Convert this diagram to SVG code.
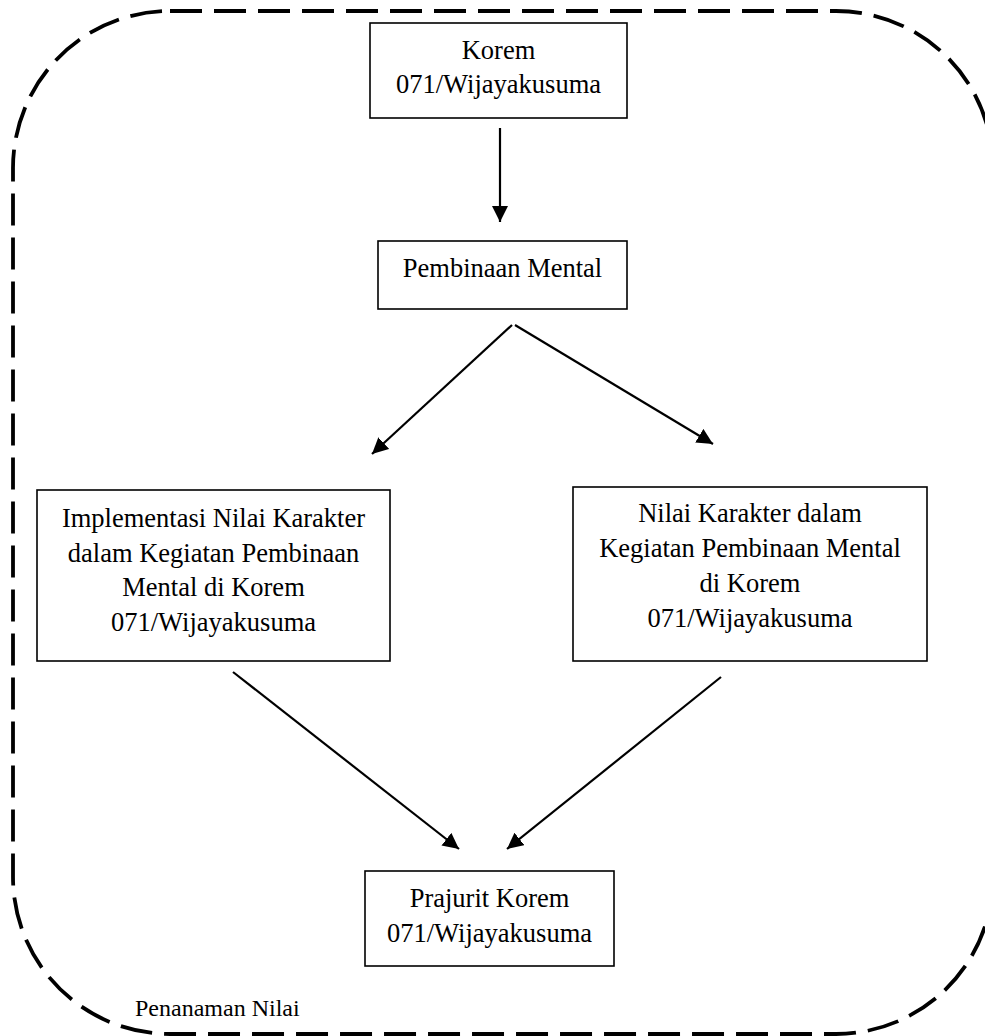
<svg xmlns="http://www.w3.org/2000/svg" width="985" height="1036" viewBox="0 0 985 1036">
<style>
.box{fill:#fff;stroke:#000;stroke-width:1.6}
.t{font-family:"Liberation Serif","Times New Roman",serif;font-size:26.5px;fill:#000;text-anchor:middle}
.lbl{font-family:"Liberation Serif","Times New Roman",serif;font-size:24px;fill:#000}
.conn{stroke:#000;stroke-width:2.2;fill:none}
.border{fill:none;stroke:#000;stroke-width:3.8;stroke-dasharray:32 12}
</style>
<defs>
<marker id="arr" markerUnits="userSpaceOnUse" markerWidth="18" markerHeight="17" refX="16" refY="8" orient="auto">
<path d="M0,0 L16,8 L0,16 z" fill="#000"/>
</marker>
</defs>
<rect class="border" x="13" y="11" width="980" height="1023" rx="157" ry="157"/>
<text class="lbl" x="135" y="1016">Penanaman Nilai</text>
<g id="connectors">
<line class="conn" x1="500" y1="128" x2="500" y2="222" marker-end="url(#arr)"/>
<line class="conn" x1="512" y1="325" x2="372" y2="454" marker-end="url(#arr)"/>
<line class="conn" x1="515" y1="325" x2="713" y2="444" marker-end="url(#arr)"/>
<line class="conn" x1="233" y1="672" x2="459" y2="849" marker-end="url(#arr)"/>
<line class="conn" x1="721" y1="677" x2="507" y2="849" marker-end="url(#arr)"/>
</g>
<g id="korem">
<rect class="box" x="370" y="23" width="257" height="95"/>
<text class="t" x="498.5" y="59">Korem</text>
<text class="t" x="498.5" y="93">071/Wijayakusuma</text>
</g>
<g id="pembinaan">
<rect class="box" x="378" y="241" width="249" height="68"/>
<text class="t" x="502.5" y="277">Pembinaan Mental</text>
</g>
<g id="implementasi">
<rect class="box" x="37" y="490" width="353" height="171"/>
<text class="t" x="213.5" y="527">Implementasi Nilai Karakter</text>
<text class="t" x="213.5" y="561.5">dalam Kegiatan Pembinaan</text>
<text class="t" x="213.5" y="596">Mental di Korem</text>
<text class="t" x="213.5" y="631">071/Wijayakusuma</text>
</g>
<g id="nilai">
<rect class="box" x="573" y="487" width="354" height="174"/>
<text class="t" x="750" y="522">Nilai Karakter dalam</text>
<text class="t" x="750" y="557">Kegiatan Pembinaan Mental</text>
<text class="t" x="750" y="592">di Korem</text>
<text class="t" x="750" y="627">071/Wijayakusuma</text>
</g>
<g id="prajurit">
<rect class="box" x="365" y="871" width="249" height="95"/>
<text class="t" x="489.5" y="907">Prajurit Korem</text>
<text class="t" x="489.5" y="942">071/Wijayakusuma</text>
</g>
</svg>
